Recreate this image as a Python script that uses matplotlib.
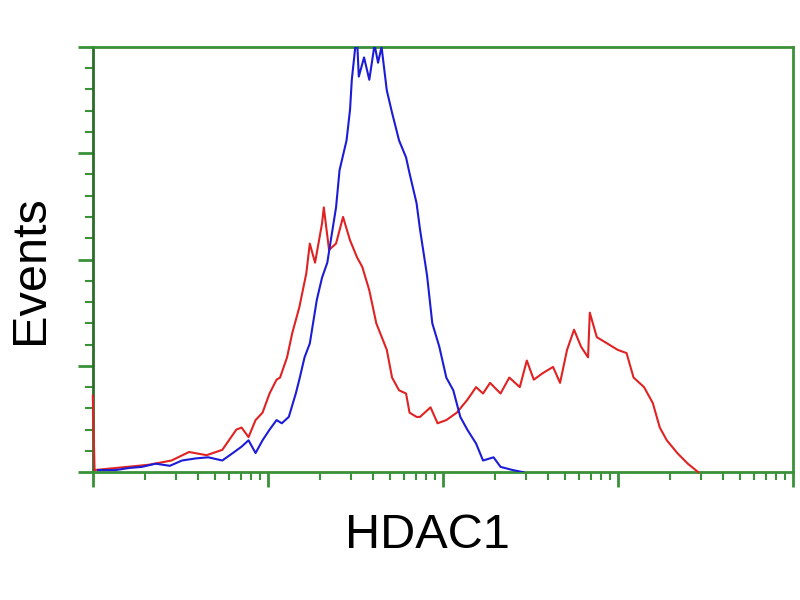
import matplotlib.pyplot as plt
from matplotlib.ticker import MultipleLocator, LogLocator, NullFormatter

# fluorescence in decades (log10), events per channel
red_log = [0.00, 0.01, 0.32, 0.45, 0.55, 0.65, 0.74, 0.82, 0.85, 0.89, 0.93, 0.97,
           1.01, 1.05, 1.07, 1.11, 1.14, 1.18, 1.22, 1.24, 1.27, 1.31, 1.32, 1.35,
           1.39, 1.43, 1.47, 1.51, 1.54, 1.58, 1.62, 1.68, 1.71, 1.75, 1.79, 1.81,
           1.85, 1.87, 1.93, 1.97, 2.02, 2.08, 2.14, 2.19, 2.23, 2.27, 2.33, 2.38,
           2.44, 2.48, 2.52, 2.57, 2.63, 2.67, 2.71, 2.75, 2.79, 2.83, 2.84, 2.88,
           2.94, 3.00, 3.05, 3.09, 3.15, 3.20, 3.24, 3.28, 3.34, 3.40, 3.46]
red_events = [72, 2, 7, 11, 19, 16, 21, 40, 42, 33, 49, 56,
              74, 87, 89, 108, 131, 155, 187, 215, 197, 234, 249, 209,
              215, 240, 218, 202, 193, 171, 140, 115, 89, 77, 74, 56,
              52, 52, 61, 46, 49, 56, 68, 80, 74, 84, 74, 89,
              80, 105, 87, 93, 99, 84, 115, 134, 118, 108, 150, 127,
              121, 115, 112, 89, 80, 65, 42, 30, 18, 8, 0]

blue_log = [0.03, 0.13, 0.21, 0.28, 0.36, 0.44, 0.51, 0.59, 0.66, 0.74, 0.80, 0.85,
            0.89, 0.93, 0.97, 1.01, 1.05, 1.08, 1.12, 1.16, 1.18, 1.21, 1.24, 1.28,
            1.31, 1.34, 1.36, 1.39, 1.41, 1.45, 1.47, 1.48, 1.50, 1.51, 1.52, 1.55,
            1.58, 1.61, 1.63, 1.65, 1.68, 1.71, 1.75, 1.79, 1.81, 1.85, 1.87, 1.91,
            1.94, 1.98, 2.02, 2.06, 2.10, 2.14, 2.19, 2.23, 2.29, 2.33, 2.40, 2.46]
blue_events = [2, 2, 4, 5, 8, 6, 11, 13, 14, 11, 18, 24,
               30, 18, 30, 40, 49, 46, 52, 74, 87, 108, 121, 162,
               183, 197, 218, 249, 284, 312, 341, 369, 400, 407, 372, 390,
               369, 402, 385, 400, 359, 338, 312, 296, 281, 253, 228, 185,
               140, 118, 89, 77, 52, 40, 27, 11, 14, 5, 2, 0]

green = "#3a913a"

fig = plt.figure(figsize=(8, 6), dpi=100)
ax = fig.add_axes([0.116, 0.213, 0.875, 0.709])

ax.plot([10 ** v for v in red_log], red_events, color="#e02222", lw=1.5,
        clip_on=False, zorder=3)
ax.plot([10 ** v for v in blue_log], blue_events, color="#1c1cd6", lw=1.5, zorder=4)

ax.set_xscale("log")
ax.set_xlim(1, 10 ** 4)
ax.set_ylim(0, 400)

ax.yaxis.set_major_locator(MultipleLocator(100))
ax.yaxis.set_minor_locator(MultipleLocator(20))
ax.xaxis.set_major_locator(LogLocator(base=10))
ax.xaxis.set_minor_locator(LogLocator(base=10, subs=range(2, 10)))
ax.xaxis.set_major_formatter(NullFormatter())
ax.xaxis.set_minor_formatter(NullFormatter())
ax.yaxis.set_major_formatter(NullFormatter())

for s in ax.spines.values():
    s.set_color(green)
    s.set_linewidth(2)
ax.spines["left"].set_color("#2a6e2a")

ax.tick_params(axis="both", which="major", direction="out", length=11, width=2, color=green)
ax.tick_params(axis="both", which="minor", direction="out", length=6, width=1.5, color=green)

fig.text(0.534, 0.107, "HDAC1", fontsize=35, family="Liberation Sans", ha="center", va="center")
fig.text(0.038, 0.55, "Events", fontsize=35, family="Liberation Sans", ha="center", va="center", rotation=90)

fig.savefig("out.png", dpi=100)
